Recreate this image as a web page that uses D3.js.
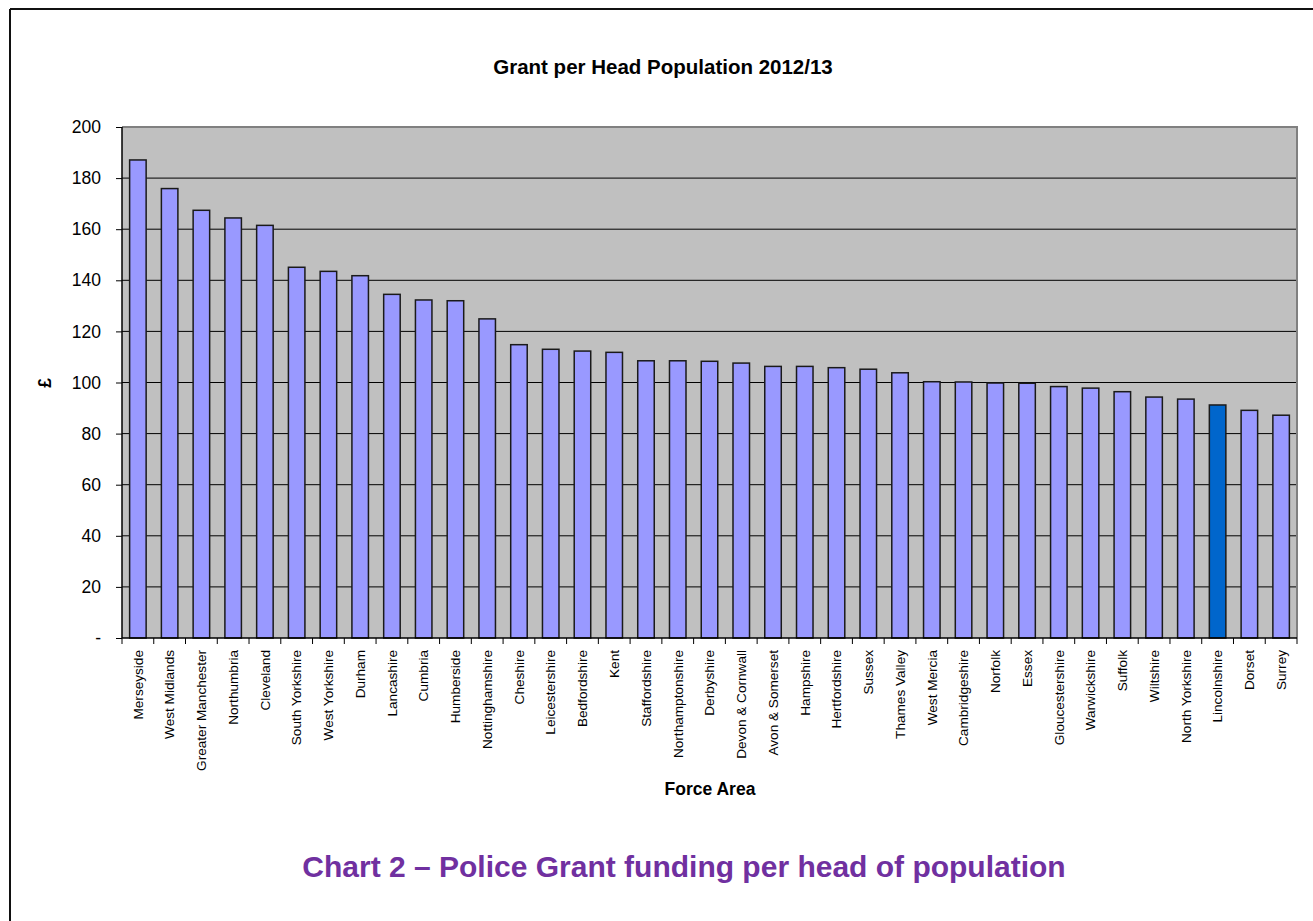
<!DOCTYPE html>
<html>
<head>
<meta charset="utf-8">
<script src="https://cdn.jsdelivr.net/npm/d3@7"></script>
<style>
  html, body { margin: 0; padding: 0; background: #fff; }
  svg { display: block; font-family: "Liberation Sans", Arial, sans-serif; }
</style>
</head>
<body>
<svg id="chart" width="1313" height="921"></svg>
<script>
const categories = ["Merseyside","West Midlands","Greater Manchester","Northumbria","Cleveland","South Yorkshire","West Yorkshire","Durham","Lancashire","Cumbria","Humberside","Nottinghamshire","Cheshire","Leicestershire","Bedfordshire","Kent","Staffordshire","Northamptonshire","Derbyshire","Devon & Cornwall","Avon & Somerset","Hampshire","Hertfordshire","Sussex","Thames Valley","West Mercia","Cambridgeshire","Norfolk","Essex","Gloucestershire","Warwickshire","Suffolk","Wiltshire","North Yorkshire","Lincolnshire","Dorset","Surrey"];
const values = [187.1,175.9,167.4,164.4,161.5,145.1,143.5,141.8,134.5,132.3,132.0,124.9,114.8,113.0,112.3,111.8,108.5,108.5,108.3,107.6,106.3,106.3,105.8,105.2,103.8,100.3,100.2,99.8,99.7,98.4,97.8,96.4,94.3,93.5,91.2,89.1,87.2];
const highlighted = ["Lincolnshire"];
const yTicks = [0,20,40,60,80,100,120,140,160,180,200];
const yTickLabels = ["-","20","40","60","80","100","120","140","160","180","200"];
const chartTitle = "Grant per Head Population 2012/13";
const xTitle = "Force Area";
const yTitle = "£";
const caption = "Chart 2 – Police Grant funding per head of population";

const svg = d3.select("#chart");
const plot = {left: 122, right: 1297, top: 127, bottom: 638};

// outer border
svg.append("line").attr("x1", 10).attr("x2", 1313).attr("y1", 9).attr("y2", 9).attr("stroke", "#111").attr("stroke-width", 2);
svg.append("line").attr("x1", 10).attr("x2", 10).attr("y1", 9).attr("y2", 921).attr("stroke", "#111").attr("stroke-width", 2);

const x = d3.scaleBand().domain(categories).range([plot.left, plot.right]).paddingInner(0.48).paddingOuter(0.24);
const y = d3.scaleLinear().domain([0, 200]).range([plot.bottom, plot.top]);

// plot background
svg.append("rect").attr("x", plot.left).attr("y", plot.top)
  .attr("width", plot.right - plot.left).attr("height", plot.bottom - plot.top)
  .attr("fill", "#C0C0C0");

// gridlines
svg.append("g").selectAll("line").data(yTicks.filter(d => d > 0 && d < 200)).join("line")
  .attr("x1", plot.left).attr("x2", plot.right)
  .attr("y1", d => y(d)).attr("y2", d => y(d))
  .attr("stroke", "#000").attr("stroke-width", 1);

// top & right border of plot
svg.append("path")
  .attr("d", `M${plot.left},${plot.top}H${plot.right}V${plot.bottom}`)
  .attr("fill", "none").attr("stroke", "#808080").attr("stroke-width", 2);

// bars
svg.append("g").selectAll("rect").data(categories).join("rect")
  .attr("x", d => x(d))
  .attr("y", (d, i) => y(values[i]))
  .attr("width", x.bandwidth())
  .attr("height", (d, i) => y(0) - y(values[i]))
  .attr("fill", d => highlighted.includes(d) ? "#0066CC" : "#9999FF")
  .attr("stroke", "#1a1a1a").attr("stroke-width", 1.5);

// y axis
const yAxis = d3.axisLeft(y).tickValues(yTicks).tickSize(6).tickPadding(15)
  .tickFormat((d, i) => yTickLabels[i]);
const gy = svg.append("g").attr("transform", `translate(${plot.left},0)`).call(yAxis);
gy.select(".domain").attr("stroke", "#000").attr("stroke-width", 1.5).attr("d", `M0,${plot.top}V${plot.bottom}`);
gy.selectAll(".tick line").attr("stroke", "#000");
gy.selectAll(".tick text").attr("font-size", 17.5).attr("fill", "#000")
  .attr("font-family", "Liberation Sans, Arial, sans-serif");

// x axis: ticks between bands
const step = x.step();
const boundaries = d3.range(categories.length + 1).map(i => plot.left + i * (plot.right - plot.left) / categories.length);
svg.append("line").attr("x1", plot.left).attr("x2", plot.right).attr("y1", plot.bottom).attr("y2", plot.bottom)
  .attr("stroke", "#000").attr("stroke-width", 1.5);
svg.append("g").selectAll("line").data(boundaries).join("line")
  .attr("x1", d => d).attr("x2", d => d).attr("y1", plot.bottom).attr("y2", plot.bottom + 6)
  .attr("stroke", "#000").attr("stroke-width", 1);

svg.append("g").selectAll("text").data(categories).join("text")
  .attr("transform", d => `translate(${x(d) + x.bandwidth() / 2},${plot.bottom + 12}) rotate(-90)`)
  .attr("text-anchor", "end").attr("dy", "0.35em")
  .attr("font-size", 13.6).attr("fill", "#000")
  .text(d => d);

// titles
svg.append("text").attr("x", 663).attr("y", 74).attr("text-anchor", "middle")
  .attr("font-size", 20.5).attr("font-weight", "bold").text(chartTitle);
svg.append("text").attr("x", 710).attr("y", 795).attr("text-anchor", "middle")
  .attr("font-size", 17.5).attr("font-weight", "bold").text(xTitle);
svg.append("text").attr("transform", "translate(51,383) rotate(-90)").attr("text-anchor", "middle")
  .attr("font-size", 17.5).attr("font-weight", "bold").text(yTitle);
svg.append("text").attr("x", 684).attr("y", 877).attr("text-anchor", "middle")
  .attr("font-size", 30).attr("font-weight", "bold").attr("fill", "#7030A0").text(caption);
</script>
</body>
</html>
